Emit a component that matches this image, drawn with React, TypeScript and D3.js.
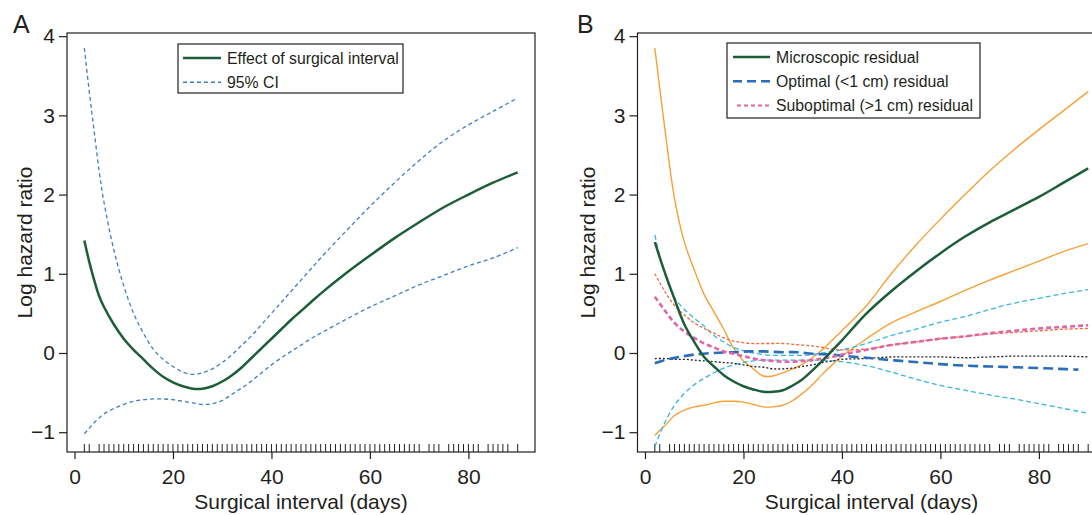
import React, { useEffect, useRef } from "react";
import * as d3 from "d3";

const W = 1092;
const H = 515;
const FONT = "'Liberation Sans', Arial, Helvetica, sans-serif";
const INK = "#231f20";

// Panel A: overall effect of surgical interval
const daysA = [2, 3, 4, 5, 6, 8, 10, 12, 14, 16, 18, 20, 22, 24, 26, 28, 30, 32, 34, 36, 38, 40, 42, 44, 46, 48, 50, 55, 60, 65, 70, 75, 80, 85, 90];
const effectA = [1.42, 1.15, 0.92, 0.72, 0.58, 0.36, 0.18, 0.04, -0.08, -0.2, -0.3, -0.37, -0.42, -0.45, -0.45, -0.42, -0.36, -0.28, -0.18, -0.06, 0.06, 0.18, 0.3, 0.42, 0.53, 0.64, 0.75, 1.0, 1.23, 1.45, 1.65, 1.84, 2.0, 2.15, 2.28];
const upperA = [3.85, 3.3, 2.8, 2.3, 1.9, 1.3, 0.85, 0.5, 0.25, 0.05, -0.08, -0.17, -0.24, -0.27, -0.25, -0.2, -0.12, -0.02, 0.1, 0.22, 0.36, 0.5, 0.64, 0.78, 0.92, 1.06, 1.2, 1.53, 1.85, 2.15, 2.43, 2.68, 2.88, 3.05, 3.22];
const lowerA = [-1.02, -0.95, -0.88, -0.82, -0.77, -0.7, -0.65, -0.61, -0.59, -0.58, -0.58, -0.59, -0.61, -0.63, -0.65, -0.64, -0.6, -0.52, -0.44, -0.35, -0.25, -0.15, -0.06, 0.02, 0.1, 0.18, 0.25, 0.42, 0.58, 0.72, 0.86, 0.98, 1.1, 1.2, 1.33];

// Panel B: by residual disease
const daysB = [2, 4, 6, 8, 10, 12, 14, 16, 18, 20, 22, 24, 26, 28, 30, 32, 34, 36, 38, 40, 45, 50, 55, 60, 65, 70, 75, 80, 85, 90];
const microB = [1.4, 1.02, 0.68, 0.36, 0.14, -0.05, -0.17, -0.28, -0.36, -0.42, -0.46, -0.49, -0.49, -0.47, -0.41, -0.33, -0.22, -0.1, 0.03, 0.16, 0.5, 0.78, 1.03, 1.26, 1.47, 1.65, 1.81, 1.97, 2.15, 2.33];
const microUpB = [3.85, 2.85, 1.95, 1.4, 1.05, 0.74, 0.52, 0.3, 0.06, -0.1, -0.2, -0.29, -0.29, -0.25, -0.2, -0.14, -0.06, 0.04, 0.16, 0.28, 0.6, 1.0, 1.36, 1.69, 2.0, 2.3, 2.57, 2.82, 3.06, 3.3];
const microLoB = [-1.04, -0.92, -0.79, -0.72, -0.68, -0.66, -0.63, -0.61, -0.61, -0.62, -0.65, -0.68, -0.68, -0.66, -0.6, -0.51, -0.4, -0.27, -0.15, -0.04, 0.18, 0.38, 0.52, 0.65, 0.79, 0.92, 1.04, 1.16, 1.28, 1.38];
const optUpB = [1.49, 1.0, 0.7, 0.55, 0.44, 0.34, 0.22, 0.14, 0.07, 0.03, 0.0, -0.02, -0.03, -0.03, -0.03, -0.03, -0.02, 0.0, 0.02, 0.04, 0.12, 0.22, 0.3, 0.39, 0.46, 0.55, 0.63, 0.69, 0.75, 0.8];
const optLoB = [-1.18, -0.88, -0.66, -0.51, -0.4, -0.32, -0.25, -0.19, -0.15, -0.12, -0.1, -0.09, -0.09, -0.09, -0.09, -0.09, -0.09, -0.09, -0.1, -0.11, -0.16, -0.24, -0.33, -0.41, -0.47, -0.53, -0.58, -0.64, -0.7, -0.76];
const subB = [0.71, 0.54, 0.38, 0.27, 0.19, 0.12, 0.07, 0.02, -0.01, -0.04, -0.07, -0.09, -0.1, -0.11, -0.11, -0.1, -0.09, -0.07, -0.05, -0.02, 0.04, 0.1, 0.14, 0.18, 0.21, 0.25, 0.28, 0.31, 0.33, 0.35];
const subUpB = [1.0, 0.78, 0.6, 0.48, 0.38, 0.31, 0.25, 0.19, 0.15, 0.13, 0.12, 0.12, 0.12, 0.12, 0.11, 0.1, 0.09, 0.07, 0.05, 0.04, 0.05, 0.1, 0.14, 0.18, 0.21, 0.24, 0.26, 0.28, 0.3, 0.31];
const subLoB = [-0.07, -0.07, -0.08, -0.08, -0.09, -0.1, -0.11, -0.12, -0.13, -0.15, -0.17, -0.18, -0.2, -0.2, -0.19, -0.17, -0.15, -0.12, -0.1, -0.08, -0.07, -0.05, -0.05, -0.05, -0.06, -0.05, -0.04, -0.04, -0.04, -0.05];
const optDaysB = [2, 4, 7, 10, 14, 18, 21, 24, 28, 31, 34, 38, 41, 45, 48, 52, 56, 60, 65, 70, 75, 80, 84, 88];
const optB = [-0.13, -0.09, -0.05, -0.02, 0.0, 0.01, 0.02, 0.02, 0.01, 0.01, -0.01, -0.02, -0.04, -0.06, -0.08, -0.1, -0.12, -0.14, -0.16, -0.17, -0.18, -0.19, -0.2, -0.21];

// observed surgical intervals (rug)
const rugDays = [2, 3, 5, 6, 7, 8, 9, 10, 11, 12, 13, 14, 15, 16, 17, 18, 19, 20, 21, 22, 23, 24, 25, 26, 27, 28, 29, 30, 31, 32, 33, 34, 35, 36, 37, 38, 39, 40, 41, 42, 43, 44, 45, 46, 47, 48, 49, 50, 51, 52, 53, 54, 55, 56, 57, 58, 59, 60, 61, 62, 63, 64, 65, 66, 67, 68, 69, 70, 72, 73, 74, 76, 77, 78, 79, 80, 81, 82, 84, 85, 86, 87, 88, 90];

const xTicks = [0, 20, 40, 60, 80];
const yTicks = [-1, 0, 1, 2, 3, 4];

const legendA = ["Effect of surgical interval", "95% CI"];
const legendB = ["Microscopic residual", "Optimal (<1 cm) residual", "Suboptimal (>1 cm) residual"];

const drawPanel = (svg, p) => {
  const x = d3.scaleLinear().domain([-1.52, 93.52]).range([p.left, p.left + 468]);
  const y = d3.scaleLinear().domain([-1.25, 4.04]).range([452, 33]);

  const clipId = "clip-" + p.label;
  svg
    .append("clipPath")
    .attr("id", clipId)
    .append("rect")
    .attr("x", p.left)
    .attr("y", 33)
    .attr("width", 468)
    .attr("height", 419);

  const plot = svg.append("g").attr("clip-path", `url(#${clipId})`);

  // rug
  plot
    .selectAll("line.rug")
    .data(rugDays)
    .enter()
    .append("line")
    .attr("x1", (d) => x(d))
    .attr("x2", (d) => x(d))
    .attr("y1", 444)
    .attr("y2", 452)
    .attr("stroke", INK)
    .attr("stroke-width", 1);

  const line = d3
    .line()
    .x((d) => x(d[0]))
    .y((d) => y(d[1]))
    .curve(d3.curveCatmullRom.alpha(0.5));

  p.series.forEach((s) => {
    plot
      .append("path")
      .attr("d", line(s.x.map((d, i) => [d, s.y[i]])))
      .attr("fill", "none")
      .attr("stroke", s.color)
      .attr("stroke-width", s.width)
      .attr("stroke-dasharray", s.dash || null);
  });

  // box
  svg
    .append("rect")
    .attr("x", p.left)
    .attr("y", 33)
    .attr("width", 468)
    .attr("height", 419)
    .attr("fill", "none")
    .attr("stroke", INK)
    .attr("stroke-width", 1.2);

  const xAxis = svg
    .append("g")
    .attr("transform", `translate(0,452)`)
    .call(d3.axisBottom(x).tickValues(xTicks).tickFormat(d3.format("d")).tickSize(7).tickPadding(10));
  const yAxis = svg
    .append("g")
    .attr("transform", `translate(${p.left},0)`)
    .call(d3.axisLeft(y).tickValues(yTicks).tickFormat(d3.format("d")).tickSize(8).tickPadding(4));
  [xAxis, yAxis].forEach((g) => {
    g.select(".domain").remove();
    g.attr("font-size", 21).attr("font-family", FONT).attr("color", INK);
    g.selectAll("line").attr("stroke-width", 1.2);
  });

  svg
    .append("text")
    .attr("x", p.left + 234)
    .attr("y", 509)
    .attr("text-anchor", "middle")
    .attr("font-size", 21)
    .attr("font-family", FONT)
    .attr("fill", INK)
    .text("Surgical interval (days)");

  svg
    .append("text")
    .attr("transform", `translate(${p.yTitleX},242.5) rotate(-90)`)
    .attr("text-anchor", "middle")
    .attr("font-size", 21)
    .attr("font-family", FONT)
    .attr("fill", INK)
    .text("Log hazard ratio");

  svg
    .append("text")
    .attr("x", p.labelX)
    .attr("y", 33)
    .attr("font-size", 25)
    .attr("font-family", FONT)
    .attr("fill", INK)
    .text(p.label);

  // legend
  const lg = p.legend;
  svg
    .append("rect")
    .attr("x", lg.x)
    .attr("y", lg.y)
    .attr("width", lg.w)
    .attr("height", lg.h)
    .attr("fill", "#fff")
    .attr("stroke", INK)
    .attr("stroke-width", 1.2);
  lg.items.forEach((it, i) => {
    const cy = lg.y + 14 + i * 24.2;
    svg
      .append("line")
      .attr("x1", lg.x + it.x1)
      .attr("x2", lg.x + 43)
      .attr("y1", cy)
      .attr("y2", cy)
      .attr("stroke", it.color)
      .attr("stroke-width", it.width)
      .attr("stroke-dasharray", it.dash || null);
    svg
      .append("text")
      .attr("x", lg.x + 49)
      .attr("y", cy + 5.5)
      .attr("font-size", 15.8)
      .attr("font-family", FONT)
      .attr("fill", INK)
      .text(it.text);
  });
};

const App = () => {
  const svgRef = useRef(null);

  useEffect(() => {
    const svg = d3.select(svgRef.current);
    svg.selectAll("*").remove();

    drawPanel(svg, {
      label: "A",
      left: 67,
      labelX: 13,
      yTitleX: 31.5,
      series: [
        { x: daysA, y: upperA, color: "#3d7fc6", width: 1.3, dash: "4,3" },
        { x: daysA, y: lowerA, color: "#3d7fc6", width: 1.3, dash: "4,3" },
        { x: daysA, y: effectA, color: "#1b5e37", width: 2.5 },
      ],
      legend: {
        x: 178,
        y: 44,
        w: 225,
        h: 49,
        items: [
          { text: legendA[0], color: "#1b5e37", width: 2.5, x1: 5 },
          { text: legendA[1], color: "#3d7fc6", width: 1.5, dash: "4,3", x1: 5 },
        ],
      },
    });

    drawPanel(svg, {
      label: "B",
      left: 637.5,
      labelX: 577,
      yTitleX: 595,
      series: [
        { x: daysB, y: microUpB, color: "#f7a035", width: 1.4 },
        { x: daysB, y: microLoB, color: "#f7a035", width: 1.4 },
        { x: daysB, y: optUpB, color: "#3ab5e6", width: 1.3, dash: "5,3" },
        { x: daysB, y: optLoB, color: "#3ab5e6", width: 1.3, dash: "5,3" },
        { x: daysB, y: subUpB, color: "#f26a3a", width: 1.3, dash: "3,2" },
        { x: daysB, y: subLoB, color: "#231f20", width: 1.3, dash: "2,2" },
        { x: optDaysB, y: optB, color: "#2a6db8", width: 2.6, dash: "10,5" },
        { x: daysB, y: subB, color: "#e064a8", width: 2.6, dash: "5,3" },
        { x: daysB, y: microB, color: "#1b5e37", width: 2.5 },
      ],
      legend: {
        x: 727,
        y: 43,
        w: 253,
        h: 75,
        items: [
          { text: legendB[0], color: "#1b5e37", width: 2.5, x1: 6 },
          { text: legendB[1], color: "#2a6db8", width: 2.6, dash: "9,5", x1: 6 },
          { text: legendB[2], color: "#e064a8", width: 2, dash: "4,3", x1: 10 },
        ],
      },
    });
  }, []);

  return (
    <svg
      ref={svgRef}
      width={W}
      height={H}
      style={{ position: "absolute", left: 0, top: 0, background: "#fff" }}
    ></svg>
  );
};

export default App;
